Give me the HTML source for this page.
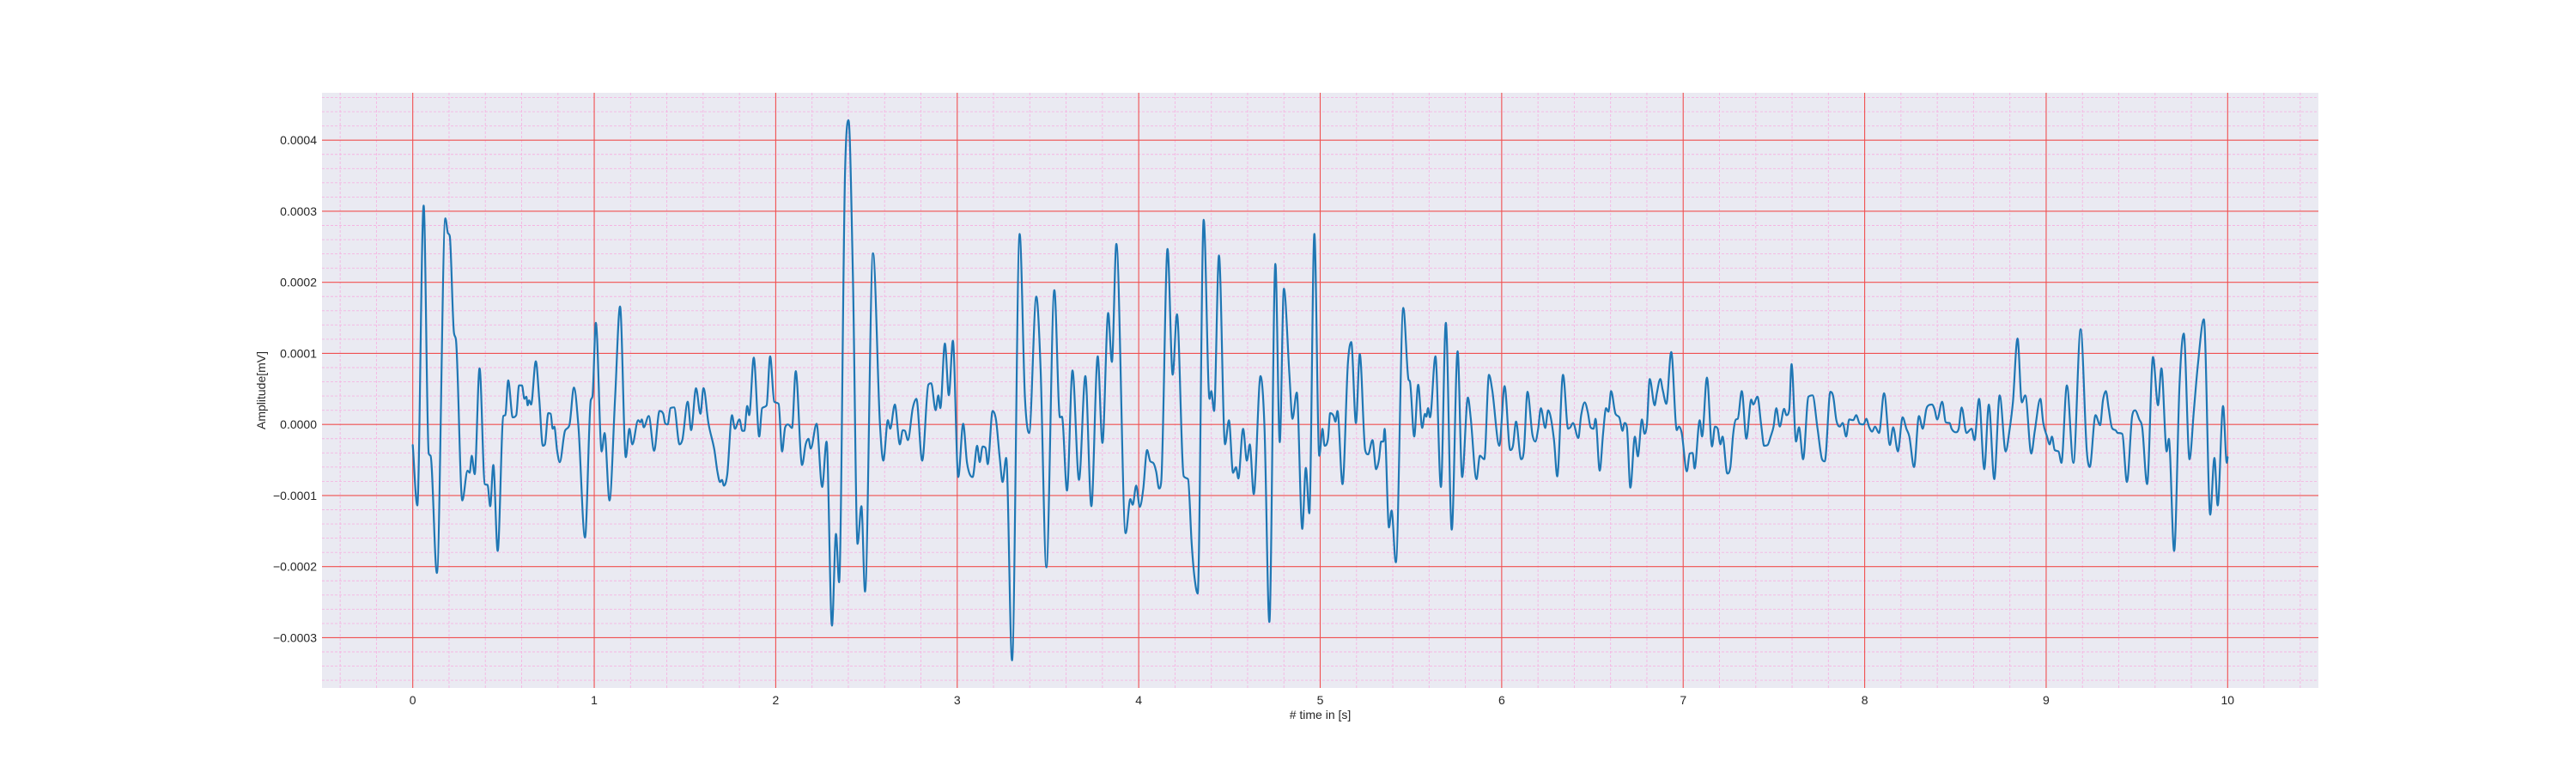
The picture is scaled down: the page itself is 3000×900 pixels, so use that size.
<!DOCTYPE html>
<html><head><meta charset="utf-8"><style>
html,body{margin:0;padding:0;background:#fff;}
svg{display:block;font-family:"Liberation Sans","DejaVu Sans",sans-serif;}
</style></head><body>
<svg id="chart" width="3000" height="900" viewBox="0 0 3000 900" xmlns="http://www.w3.org/2000/svg">
<rect x="375" y="108" width="2325" height="693" fill="#EAEAF2"/>
<g id="minor-grid"></g>
<g id="major-grid"></g>
<g id="series"></g>
<g id="xticks"></g>
<g id="yticks"></g>
<text x="1537.5" y="837" font-size="14" fill="#262626" text-anchor="middle"># time in [s]</text>
<text x="0" y="0" font-size="14" fill="#262626" text-anchor="middle" transform="translate(309,454.5) rotate(-90)">Amplitude[mV]</text>
</svg>
<script>
const xTickValues = [0,1,2,3,4,5,6,7,8,9,10];
const xTickLabels = ["0","1","2","3","4","5","6","7","8","9","10"];
const yTickValues = [-0.0003,-0.0002,-0.0001,0,0.0001,0.0002,0.0003,0.0004];
const yTickLabels = ["\u22120.0003","\u22120.0002","\u22120.0001","0.0000","0.0001","0.0002","0.0003","0.0004"];
const timeSec = [0,0.025,0.06,0.088,0.098,0.133,0.18,0.194,0.204,0.227,0.238,0.273,0.302,0.314,0.325,0.341,0.368,0.397,0.412,0.427,0.444,0.468,0.499,0.51,0.526,0.551,0.57,0.586,0.602,0.615,0.626,0.633,0.641,0.652,0.678,0.697,0.717,0.728,0.747,0.76,0.771,0.78,0.795,0.81,0.839,0.863,0.888,0.913,0.949,0.981,0.99,1.009,1.041,1.057,1.084,1.115,1.142,1.174,1.194,1.21,1.242,1.254,1.262,1.273,1.30,1.33,1.36,1.38,1.39,1.405,1.42,1.44,1.47,1.486,1.515,1.534,1.561,1.585,1.602,1.629,
1.662,1.678,1.693,1.704,1.714,1.733,1.759,1.775,1.80,1.816,1.827,1.843,1.854,1.879,1.909,1.925,1.95,1.969,1.992,2.016,2.035,2.052,2.068,2.09,2.11,2.145,2.165,2.18,2.193,2.225,2.256,2.28,2.31,2.332,2.349,2.382,2.401,2.425,2.451,2.472,2.492,2.536,2.574,2.593,2.618,2.631,2.656,2.684,2.70,2.712,2.728,2.755,2.775,2.807,2.841,2.857,2.881,2.896,2.907,2.932,2.954,2.976,3.006,3.033,3.054,3.085,3.11,3.124,3.14,3.156,3.168,3.195,3.214,3.234,3.25,3.27,3.302,
3.344,3.373,3.396,3.436,3.459,3.491,3.535,3.566,3.577,3.605,3.635,3.671,3.706,3.739,3.774,3.80,3.832,3.852,3.877,3.928,3.954,3.967,3.986,4.006,4.025,4.046,4.064,4.08,4.096,4.112,4.124,4.159,4.187,4.211,4.248,4.272,4.292,4.308,4.325,4.358,4.39,4.40,4.415,4.442,4.476,4.497,4.52,4.536,4.549,4.575,4.596,4.612,4.634,4.671,4.693,4.72,4.753,4.777,4.80,4.83,4.847,4.871,4.901,4.921,4.94,4.968,
4.995,5.013,5.024,5.043,5.055,5.074,5.084,5.095,5.123,5.153,5.171,5.197,5.218,5.248,5.264,5.288,5.308,5.324,5.336,5.348,5.355,5.379,5.393,5.417,5.458,5.487,5.494,5.518,5.54,5.562,5.577,5.585,5.594,5.605,5.635,5.665,5.692,5.725,5.757,5.782,5.814,5.829,5.861,5.88,5.904,5.93,5.948,5.987,6.016,6.047,6.062,6.079,6.107,6.122,6.142,6.169,6.185,6.20,6.216,6.24,6.256,6.288,6.306,6.338,6.366,6.378,6.393,6.422,6.438,6.457,6.474,6.49,6.506,6.517,6.54,6.559,6.575,6.588,6.603,6.627,6.648,
6.666,6.677,6.69,6.709,6.734,6.75,6.773,6.787,6.80,6.816,6.843,6.855,6.874,6.887,6.907,6.934,6.965,6.976,6.992,7.02,7.036,7.052,7.063,7.091,7.104,7.131,7.159,7.175,7.19,7.205,7.217,7.243,7.26,7.276,7.291,7.301,7.323,7.348,7.375,7.386,7.409,7.43,7.446,7.465,7.482,7.498,7.513,7.532,7.556,7.569,7.584,7.597,7.622,7.638,7.661,7.69,7.713,7.74,7.765,7.78,7.811,7.827,7.844,7.863,7.879,7.898,7.915,7.937,7.953,7.973,7.994,8.009,8.025,8.041,8.057,8.079,8.107,8.139,8.157,8.183,8.209,8.23,8.246,8.272,8.299,8.32,8.34,
8.352,8.371,8.384,8.40,8.427,8.447,8.468,8.479,8.502,8.518,8.534,8.561,8.589,8.605,8.63,8.659,8.684,8.714,8.744,8.777,8.798,8.817,8.842,8.866,8.885,8.918,8.937,8.968,8.984,9.005,9.019,9.032,9.047,9.068,9.084,9.114,9.15,9.19,9.224,9.24,9.272,9.297,9.313,9.329,9.344,9.363,9.382,9.395,9.419,9.445,9.474,9.49,9.513,9.529,9.556,9.589,9.616,9.635,9.664,9.676,9.705,9.735,9.758,9.79,9.814,9.837,9.869,9.904,9.927,9.945,9.975,9.995,10.0];
// amplitude in units of 1e-4 mV
const amplitudeE4 = [-0.29,-1.14,3.08,-0.41,-0.44,-2.09,2.9,2.69,2.65,1.29,1.19,-1.07,-0.65,-0.68,-0.44,-0.70,0.79,-0.84,-0.85,-1.15,-0.57,-1.78,0.12,0.13,0.62,0.10,0.13,0.55,0.55,0.36,0.39,0.27,0.34,0.28,0.89,0.36,-0.30,-0.28,0.16,0.15,-0.06,-0.03,-0.36,-0.53,-0.09,-0.01,0.52,-0.04,-1.59,0.34,0.39,1.43,-0.38,-0.12,-1.07,0.39,1.66,-0.46,-0.06,-0.28,0.06,0.03,0.07,-0.04,0.12,-0.37,0.19,0.15,0.02,0.0,0.23,0.24,-0.28,-0.21,0.32,-0.08,0.51,0.15,0.51,0.02,
-0.36,-0.65,-0.81,-0.78,-0.86,-0.70,0.13,-0.06,0.07,-0.09,-0.09,0.26,0.13,0.94,-0.17,0.23,0.27,0.96,0.32,0.29,-0.38,-0.04,0.0,-0.05,0.75,-0.57,-0.28,-0.20,-0.34,0.01,-0.88,-0.24,-2.83,-1.54,-2.22,3.53,4.28,2.14,-1.68,-1.15,-2.35,2.41,0.02,-0.51,0.06,-0.06,0.28,-0.28,-0.08,-0.09,-0.22,0.23,0.36,-0.51,0.56,0.58,0.20,0.41,0.23,1.14,0.41,1.18,-0.74,0.01,-0.54,-0.74,-0.30,-0.53,-0.31,-0.33,-0.56,0.19,0.06,-0.46,-0.81,-0.47,-3.32,
2.68,0.39,-0.12,1.80,0.81,-2.01,1.89,0.10,0.11,-0.93,0.76,-0.78,0.68,-1.15,0.96,-0.26,1.57,0.88,2.54,-1.53,-1.05,-1.13,-0.86,-1.16,-0.91,-0.36,-0.52,-0.54,-0.66,-0.90,-0.81,2.47,0.70,1.55,-0.73,-0.77,-1.69,-2.16,-2.38,2.88,0.36,0.47,0.19,2.38,-0.28,0.06,-0.68,-0.60,-0.76,-0.06,-0.51,-0.28,-0.98,0.68,-0.04,-2.78,2.26,-0.25,1.91,0.71,0.08,0.45,-1.47,-0.61,-1.25,2.68,
-0.44,-0.06,-0.30,-0.20,0.16,0.12,0.04,0.19,-0.84,0.87,1.16,0.02,0.99,-0.36,-0.42,-0.22,-0.63,-0.49,-0.24,-0.24,-0.06,-1.45,-1.21,-1.94,1.64,0.63,0.61,-0.17,0.56,-0.05,0.15,0.11,0.23,0.10,0.96,-0.88,1.43,-1.48,1.03,-0.74,0.38,0.10,-0.77,-0.44,-0.49,0.70,0.48,-0.30,0.54,-0.36,-0.30,0.04,-0.49,-0.38,0.46,-0.14,-0.24,-0.08,0.23,-0.05,0.20,-0.21,-0.73,0.70,-0.06,-0.04,0.02,-0.19,0.13,0.31,0.18,-0.04,-0.06,0.08,-0.65,-0.12,0.23,0.18,0.47,0.15,0.10,
-0.09,0.02,-0.04,-0.89,-0.17,-0.45,0.07,-0.13,0.0,0.64,0.27,0.44,0.64,0.49,0.29,1.02,-0.08,-0.03,-0.12,-0.66,-0.41,-0.40,-0.62,0.06,-0.17,0.66,-0.31,-0.03,-0.06,-0.28,-0.17,-0.69,-0.60,-0.12,0.07,0.08,0.47,-0.20,0.35,0.28,0.39,-0.01,-0.30,-0.29,-0.17,-0.03,0.23,-0.03,0.22,0.13,0.20,0.85,-0.24,-0.04,-0.49,0.39,0.41,-0.05,-0.49,-0.52,0.46,0.39,0.06,-0.03,0.02,-0.17,0.07,0.06,0.13,0.01,0.0,0.08,-0.04,-0.10,-0.03,-0.12,0.44,-0.29,-0.04,-0.38,0.10,-0.06,-0.17,-0.60,0.12,-0.06,0.22,
0.27,0.28,0.22,0.07,0.32,0.03,0.02,-0.06,-0.11,-0.06,0.24,-0.12,-0.06,-0.22,0.36,-0.63,0.28,-0.77,0.41,-0.38,-0.08,0.32,1.21,0.31,0.41,-0.41,-0.10,0.36,0.02,-0.17,-0.28,-0.17,-0.36,-0.38,-0.54,0.55,-0.54,1.34,-0.38,-0.60,0.13,-0.01,0.34,0.47,0.23,-0.05,-0.08,-0.12,-0.13,-0.81,0.12,0.20,0.07,-0.04,-0.84,0.95,0.27,0.79,-0.38,-0.20,-1.78,0.57,1.28,-0.49,0.20,0.87,1.48,-1.27,-0.47,-1.14,0.26,-0.54,-0.46];

const NS = "http://www.w3.org/2000/svg";
const L = 375, R = 2700, T = 108, B = 801;
const xMin = -0.5, xMax = 10.5;
const yZeroPx = 494.2, pxPer1e4 = 82.75;
const yMax = (yZeroPx - T) / pxPer1e4 * 1e-4, yMin = -(B - yZeroPx) / pxPer1e4 * 1e-4;
function sx(v){ return L + (v - xMin) / (xMax - xMin) * (R - L); }
function sy(v){ return T + (yMax - v) / (yMax - yMin) * (B - T); }
function mk(tag, attrs, parent){ const e = document.createElementNS(NS, tag); for (const k in attrs) e.setAttribute(k, attrs[k]); parent.appendChild(e); return e; }

const minorG = document.getElementById('minor-grid');
for (let i = -2; i <= 52; i++) {
  if (i % 5 === 0) continue;
  const v = i * 0.2;
  const ln = mk('line', {x1:sx(v), x2:sx(v), y1:T, y2:B, stroke:'#f5b5e2', 'stroke-width':0.9, 'stroke-dasharray':'3,2'}, minorG);
  
  
}
for (let i = -18; i <= 23; i++) {
  if (i % 5 === 0) continue;
  const v = i * 0.2e-4;
  const ln = mk('line', {x1:L, x2:R, y1:sy(v), y2:sy(v), stroke:'#f5b5e2', 'stroke-width':0.9, 'stroke-dasharray':'3,2'}, minorG);
  
  
}
const majorG = document.getElementById('major-grid');
const xt = document.getElementById('xticks');
xTickValues.forEach((v, i) => {
  const ln = mk('line', {x1:sx(v), x2:sx(v), y1:T, y2:B, stroke:'#f05050', 'stroke-width':1.1}, majorG);
  
  
  const tx = mk('text', {x:sx(v), y:B + 19, 'font-size':14, fill:'#262626', 'text-anchor':'middle'}, xt);
  tx.textContent = xTickLabels[i];
  
  
});
const yt = document.getElementById('yticks');
yTickValues.forEach((v, i) => {
  const ln = mk('line', {x1:L, x2:R, y1:sy(v), y2:sy(v), stroke:'#f05050', 'stroke-width':1.1}, majorG);
  
  
  const tx = mk('text', {x:L - 6, y:sy(v) + 5, 'font-size':14, fill:'#262626', 'text-anchor':'end'}, yt);
  tx.textContent = yTickLabels[i];
  
  
});

// monotone cubic path through points (keeps extremes, smooth like the dense original)
const P = timeSec.map((t, i) => [sx(t), sy(amplitudeE4[i] * 1e-4)]);
const n = P.length, d = [], m = [];
for (let i = 0; i < n - 1; i++) d.push((P[i+1][1] - P[i][1]) / (P[i+1][0] - P[i][0]));
m[0] = d[0]; m[n-1] = d[n-2];
for (let i = 1; i < n - 1; i++) m[i] = (d[i-1] * d[i] <= 0) ? 0 : (d[i-1] + d[i]) / 2;
for (let i = 0; i < n - 1; i++) {
  if (d[i] === 0) { m[i] = 0; m[i+1] = 0; continue; }
  const a = m[i] / d[i], b = m[i+1] / d[i], s = a*a + b*b;
  if (s > 9) { const tt = 3 / Math.sqrt(s); m[i] = tt*a*d[i]; m[i+1] = tt*b*d[i]; }
}
let path = 'M' + P[0][0].toFixed(1) + ',' + P[0][1].toFixed(1);
for (let i = 0; i < n - 1; i++) {
  const h = (P[i+1][0] - P[i][0]) / 3;
  path += 'C' + (P[i][0]+h).toFixed(1) + ',' + (P[i][1]+m[i]*h).toFixed(1) + ' ' +
          (P[i+1][0]-h).toFixed(1) + ',' + (P[i+1][1]-m[i+1]*h).toFixed(1) + ' ' +
          P[i+1][0].toFixed(1) + ',' + P[i+1][1].toFixed(1);
}
const line = mk('path', {d:path, fill:'none', stroke:'#1f77b4', 'stroke-width':2.2, 'stroke-linejoin':'round', 'stroke-linecap':'round'}, document.getElementById('series'));


</script>
</body></html>
